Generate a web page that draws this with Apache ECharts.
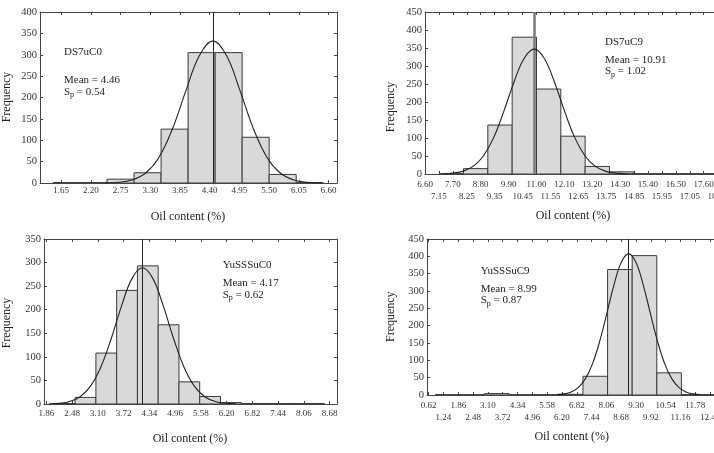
<!DOCTYPE html>
<html>
<head>
<meta charset="utf-8">
<script src="https://cdn.jsdelivr.net/npm/echarts@6/dist/echarts.min.js"></script>
<style>
html,body{margin:0;padding:0;background:#fff;}
#chart{width:714px;height:453px;}
</style>
</head>
<body>
<div id="chart"></div>
<script>
// ---------- data ----------
// Panel 1: DS7uC0
const p1Edges = [1.5, 2.0, 2.5, 3.0, 3.5, 4.0, 4.5, 5.0, 5.5, 6.0, 6.5];
const p1Freq  = [1, 1, 9, 24, 126, 305, 305, 107, 20, 1];
const p1CurveX = [2.46, 2.71, 2.96, 3.21, 3.46, 3.71, 3.96, 4.21, 4.46, 4.71, 4.96, 5.21, 5.46, 5.71, 5.96, 6.21, 6.46];
const p1CurveY = [0.3, 1.7, 7.0, 22.8, 59.8, 126.5, 216, 298, 332, 298, 216, 126.5, 59.8, 22.8, 7.0, 1.7, 0.3];
const p1Ticks = [1.65, 2.20, 2.75, 3.30, 3.85, 4.40, 4.95, 5.50, 6.05, 6.60];
const p1Mean = 4.46;

// Panel 2: DS7uC9
const p2Edges = [7.16, 8.12, 9.08, 10.04, 11.00, 11.96, 12.92, 13.88, 14.84, 15.80, 16.76, 17.72, 18.68];
const p2Freq  = [1, 15, 136, 380, 236, 105, 21, 6, 1, 1, 1, 1];
const p2CurveX = [7.31, 7.71, 8.11, 8.51, 8.91, 9.31, 9.71, 10.11, 10.51, 10.91, 11.31, 11.71, 12.11, 12.51, 12.91, 13.31, 13.71, 14.11, 14.51, 14.91];
const p2CurveY = [0.7, 2.5, 8.0, 21.8, 50.7, 101, 174, 255, 321, 347, 321, 255, 174, 101, 50.7, 21.8, 8.0, 2.5, 0.7, 0.2];
const p2Ticks = [6.60, 7.15, 7.70, 8.25, 8.80, 9.35, 9.90, 10.45, 11.00, 11.55, 12.10, 12.65, 13.20, 13.75, 14.30, 14.85, 15.40, 15.95, 16.50, 17.05, 17.60, 18.15];
const p2Mean = 10.91;

// Panel 3: YuSSSuC0
const p3Edges = [2.05, 2.55, 3.05, 3.55, 4.05, 4.55, 5.05, 5.55, 6.05, 6.55, 7.05, 7.55, 8.05, 8.55];
const p3Freq  = [1, 14, 108, 241, 293, 168, 47, 16, 3, 1, 1, 1, 1];
const p3CurveX = [1.92, 2.17, 2.42, 2.67, 2.92, 3.17, 3.42, 3.67, 3.92, 4.17, 4.42, 4.67, 4.92, 5.17, 5.42, 5.67, 5.92, 6.17, 6.42];
const p3CurveY = [0.4, 1.6, 5.4, 15.5, 37.9, 78.6, 139, 208.7, 266.5, 289, 266.5, 208.7, 139, 78.6, 37.9, 15.5, 5.4, 1.6, 0.4];
const p3Ticks = [1.86, 2.48, 3.10, 3.72, 4.34, 4.96, 5.58, 6.20, 6.82, 7.44, 8.06, 8.68];
const p3Mean = 4.17;

// Panel 4: YuSSSuC9
const p4Edges = [0.90, 1.93, 2.96, 3.99, 5.02, 6.05, 7.08, 8.11, 9.14, 10.17, 11.20, 12.23, 13.26];
const p4Freq  = [1, 1, 4, 1, 1, 2, 54, 362, 402, 64, 1, 1];
const p4CurveX = [5.99, 6.29, 6.59, 6.89, 7.19, 7.49, 7.79, 8.09, 8.39, 8.69, 8.99, 9.29, 9.59, 9.89, 10.19, 10.49, 10.79, 11.09, 11.39, 11.69, 11.99];
const p4CurveY = [1.1, 3.3, 9.0, 22.1, 47.9, 92.1, 157.3, 238.5, 320.7, 383.5, 407, 383.5, 320.7, 238.5, 157.3, 92.1, 47.9, 22.1, 9.0, 3.3, 1.1];
const p4Ticks = [0.62, 1.24, 1.86, 2.48, 3.10, 3.72, 4.34, 4.96, 5.58, 6.20, 6.82, 7.44, 8.06, 8.68, 9.30, 9.92, 10.54, 11.16, 11.78, 12.40];
const p4Mean = 8.99;

const names = ['DS7uC0', 'DS7uC9', 'YuSSSuC0', 'YuSSSuC9'];
const meanTexts = ['4.46', '10.91', '4.17', '8.99'];
const sdTexts = ['0.54', '1.02', '0.62', '0.87'];
const yMax = [400, 450, 350, 450];
const xTitle = 'Oil content (%)';
const yTitle = 'Frequency';

// ---------- layout ----------
const FONT = 'Liberation Serif';
const INK = '#222';
const AX = '#444';
const panels = [
  {edges: p1Edges, freq: p1Freq, cx: p1CurveX, cy: p1CurveY, ticks: p1Ticks, mean: p1Mean,
   grid: {left: 40, top: 12, width: 297, height: 171}, min: 1.26, max: 6.755, twoRow: false, margin: 3,
   meanStyle: {color: '#222', width: 1},
   txt: [64, 52.3, 80, 91.7], fy: [7, 97], fx: [188, 216.7]},
  {edges: p2Edges, freq: p2Freq, cx: p2CurveX, cy: p2CurveY, ticks: p2Ticks, mean: p2Mean,
   grid: {left: 425, top: 12, width: 299, height: 162}, min: 6.6, max: 18.4, twoRow: true, margin: 6,
   meanStyle: {color: '#7a7a7a', width: 2.5},
   txt: [605, 41.7, 60, 71.5], fy: [390.5, 107], fx: [573, 216]},
  {edges: p3Edges, freq: p3Freq, cx: p3CurveX, cy: p3CurveY, ticks: p3Ticks, mean: p3Mean,
   grid: {left: 44, top: 239, width: 293, height: 165}, min: 1.80, max: 8.856, twoRow: false, margin: 5,
   meanStyle: {color: '#222', width: 1},
   txt: [222.7, 265, 282.7, 295], fy: [7, 323], fx: [190, 439.3]},
  {edges: p4Edges, freq: p4Freq, cx: p4CurveX, cy: p4CurveY, ticks: p4Ticks, mean: p4Mean,
   grid: {left: 427, top: 239, width: 295, height: 156}, min: 0.55, max: 12.9, twoRow: true, margin: 6,
   meanStyle: {color: '#222', width: 1},
   txt: [480.7, 270.7, 289, 300.5], fy: [390.7, 316.7], fx: [571.7, 437.3]}
];

const grids = [], xAxes = [], yAxes = [], series = [], graphics = [];

function textEl(x, y, text, size) {
  return {
    type: 'text', x: x, y: y, silent: true,
    style: {text: text, fontFamily: FONT, fontSize: size, fill: INK,
            align: 'left', verticalAlign: 'middle', textAlign: 'left', textVerticalAlign: 'middle'}
  };
}
const fmt = function (v) { return v.toFixed(2); };

panels.forEach(function (p, i) {
  grids.push(Object.assign({containLabel: false, outerBoundsMode: 'none'}, p.grid));
  const tickCommon = {show: true, inside: true, length: 3, customValues: p.ticks, lineStyle: {color: AX, width: 1}};
  const row1 = p.twoRow ? p.ticks.filter(function (v, k) { return k % 2 === 0; }) : p.ticks;
  const row2 = p.twoRow ? p.ticks.filter(function (v, k) { return k % 2 === 1; }) : [];
  const labelCommon = {formatter: fmt, fontFamily: FONT, fontSize: 9, color: '#333',
                       showMinLabel: true, showMaxLabel: true, hideOverlap: false};
  const xBase = xAxes.length;
  xAxes.push({
    gridIndex: i, type: 'value', position: 'bottom', min: p.min, max: p.max,
    axisLine: {show: true, onZero: false, lineStyle: {color: AX, width: 1}},
    axisTick: tickCommon,
    axisLabel: Object.assign({customValues: row1, margin: p.margin}, labelCommon),
    splitLine: {show: false}
  });
  xAxes.push({
    gridIndex: i, type: 'value', position: 'top', min: p.min, max: p.max,
    axisLine: {show: true, onZero: false, lineStyle: {color: AX, width: 1}},
    axisTick: tickCommon,
    axisLabel: {show: false},
    splitLine: {show: false}
  });
  if (p.twoRow) {
    xAxes.push({
      gridIndex: i, type: 'value', position: 'bottom', offset: 0, min: p.min, max: p.max,
      axisLine: {show: false, onZero: false},
      axisTick: {show: false},
      axisLabel: Object.assign({customValues: row2, margin: p.margin + 12}, labelCommon),
      splitLine: {show: false}
    });
  }
  const yBase = yAxes.length;
  const yTick = {show: true, inside: true, length: 3, lineStyle: {color: AX, width: 1}};
  yAxes.push({
    gridIndex: i, type: 'value', position: 'left', min: 0, max: yMax[i], interval: 50,
    axisLine: {show: true, onZero: false, lineStyle: {color: AX, width: 1}},
    axisTick: yTick,
    axisLabel: {fontFamily: FONT, fontSize: 10.5, color: '#333', margin: 3, hideOverlap: false},
    splitLine: {show: false}
  });
  yAxes.push({
    gridIndex: i, type: 'value', position: 'right', min: 0, max: yMax[i], interval: 50,
    axisLine: {show: true, onZero: false, lineStyle: {color: AX, width: 1}},
    axisTick: yTick,
    axisLabel: {show: false},
    splitLine: {show: false}
  });

  const barData = p.freq.map(function (f, k) { return [p.edges[k], p.edges[k + 1], f]; });
  series.push({
    type: 'custom', xAxisIndex: xBase, yAxisIndex: yBase, clip: true, silent: true,
    data: barData,
    encode: {x: [0, 1], y: 2},
    renderItem: function (params, api) {
      const a = api.coord([api.value(0), api.value(2)]);
      const b = api.coord([api.value(1), 0]);
      return {
        type: 'rect',
        shape: {x: a[0], y: a[1], width: b[0] - a[0], height: b[1] - a[1]},
        style: {fill: '#d9d9d9', stroke: '#3a3a3a', lineWidth: 1}
      };
    }
  });
  series.push({
    type: 'line', xAxisIndex: xBase, yAxisIndex: yBase, silent: true,
    data: p.cx.map(function (x, k) { return [x, p.cy[k]]; }),
    smooth: 0.4, showSymbol: false, symbol: 'none',
    lineStyle: {color: INK, width: 1.1},
    z: 5,
    markLine: {
      silent: true, symbol: ['none', 'none'], label: {show: false},
      lineStyle: {color: p.meanStyle.color, width: p.meanStyle.width, type: 'solid'},
      data: [{xAxis: p.mean}]
    }
  });

  // annotations
  const t = p.txt;
  graphics.push(textEl(t[0], t[1], names[i], 11));
  graphics.push(textEl(t[0], t[2], 'Mean = ' + meanTexts[i], 11));
  graphics.push({
    type: 'text', x: t[0], y: t[3], silent: true,
    style: {
      text: '{a|S}{b|p}{a| = ' + sdTexts[i] + '}',
      align: 'left', verticalAlign: 'middle', textAlign: 'left', textVerticalAlign: 'middle',
      fontFamily: FONT, fontSize: 11, fill: INK,
      rich: {
        a: {fontFamily: FONT, fontSize: 11, fill: INK, color: INK, lineHeight: 14, verticalAlign: 'middle'},
        b: {fontFamily: FONT, fontSize: 8, fill: INK, color: INK, lineHeight: 14, verticalAlign: 'bottom'}
      }
    }
  });
  graphics.push({
    type: 'text', x: p.fy[0], y: p.fy[1], rotation: Math.PI / 2, silent: true,
    style: {text: yTitle, fontFamily: FONT, fontSize: 12, fill: INK,
            align: 'center', verticalAlign: 'middle', textAlign: 'center', textVerticalAlign: 'middle'}
  });
  graphics.push({
    type: 'text', x: p.fx[0], y: p.fx[1], silent: true,
    style: {text: xTitle, fontFamily: FONT, fontSize: 12, fill: INK,
            align: 'center', verticalAlign: 'middle', textAlign: 'center', textVerticalAlign: 'middle'}
  });
});

const chart = echarts.init(document.getElementById('chart'), null, {renderer: 'canvas'});
chart.setOption({
  animation: false,
  backgroundColor: '#ffffff',
  textStyle: {fontFamily: FONT},
  grid: grids,
  xAxis: xAxes,
  yAxis: yAxes,
  series: series,
  graphic: {elements: graphics}
});
</script>
</body>
</html>
